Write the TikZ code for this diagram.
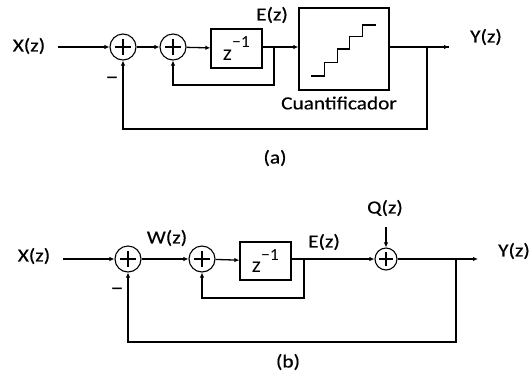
\documentclass[tikz,border=0pt]{standalone}
\usepackage{fontspec}
\setmainfont{Carlito}[FakeStretch=1.15,FakeBold=0.5]
\newfontfamily\plainfont{Carlito}[FakeStretch=1.05]
\usetikzlibrary{arrows.meta}
\tikzset{
  wire/.style={line width=1.3pt},
  arr/.style={wire,-{Latex[length=5pt,width=4.5pt]}},
  lbl/.style={font=\fontsize{18.5}{18.5}\selectfont, inner sep=0pt},
  sumnode/.style={circle,draw,line width=1.1pt,minimum size=#1,inner sep=0pt,
    path picture={
      \draw[line width=1.1pt] ([xshift=-0.3*#1]path picture bounding box.center) -- ([xshift=0.3*#1]path picture bounding box.center);
      \draw[line width=1.1pt] ([yshift=-0.3*#1]path picture bounding box.center) -- ([yshift=0.3*#1]path picture bounding box.center);
    }},
  blk/.style={draw,line width=1.3pt,inner sep=0pt},
  zinv/.style={font=\plainfont\fontsize{22}{22}\selectfont},
}
\newcommand{\zinvtext}{z\raisebox{0.55em}{\fontsize{17}{17}\selectfont −1}}
\begin{document}
\begin{tikzpicture}[x=1pt,y=-1pt]
\useasboundingbox[fill=white] (0,0) rectangle (532,376);

% ---------------- (a) ----------------
\node[lbl] (xa) at (29,46) {X(z)};
\coordinate (xas) at (58,47);
\node[sumnode=26pt] (a1) at (123,47) {};
\node[sumnode=26pt] (a2) at (173,47) {};
\node[blk,minimum width=51pt,minimum height=39pt] (ad) at (236.5,48.5) {};
\node[zinv] at (ad.center) {\zinvtext};
\node[lbl] (ea) at (272,15) {E(z)};
\node[blk,minimum width=90pt,minimum height=82pt] (aq) at (344,49) {};
\node[lbl] (qa) at (339,103) {Cuantificador};
\node[lbl] (ya) at (486,37) {Y(z)};
\node[lbl] (ma) at (112,80) {\fontsize{22}{22}\selectfont –};
\node[lbl] (la) at (275,158) {(a)};
\coordinate (ai) at (274,47);
\coordinate (ao) at (427,47);
\coordinate (aend) at (449,47);

\draw[arr] (xas) -- (a1);
\draw[arr] (a1) -- (a2);
\draw[arr] (a2) -- (ad);
\draw[arr] (ad.east |- 0,47) -- (aq.west |- 0,47);
\draw[wire] (aq.east |- 0,47) -- (aend);
\draw[arr] (ao) -- (aend);
\draw[arr] (ai) -- (274,85) -| (a2.south);
\draw[arr] (ao) -- (427,129) -| (a1.south);
% staircase
\draw[line width=1.3pt] (311,76) -- (324.3,76) -- (324.3,62.3) -- (337.7,62.3) -- (337.7,49)
  -- (349.3,49) -- (349.3,36.7) -- (362.7,36.7) -- (362.7,25) -- (376,25);

% ---------------- (b) ----------------
\node[lbl] (xb) at (34,256) {X(z)};
\coordinate (xbs) at (63,259);
\node[sumnode=26pt] (b1) at (128,259) {};
\node[lbl] (wb) at (167,238) {W(z)};
\node[sumnode=26pt] (b2) at (202,259) {};
\node[blk,minimum width=51pt,minimum height=38pt] (bd) at (265.5,261) {};
\node[zinv] at (bd.center) {\zinvtext};
\node[lbl] (eb) at (324,242) {E(z)};
\node[sumnode=22pt] (b3) at (386,259) {};
\node[lbl] (qb) at (385,208) {Q(z)};
\coordinate (qbs) at (386,227);
\node[lbl] (yb) at (514,251) {Y(z)};
\node[lbl] (mb) at (117,291) {\fontsize{22}{22}\selectfont –};
\node[lbl] (lb) at (288,362) {(b)};
\coordinate (bi) at (304,259);
\coordinate (bo) at (456,259);
\coordinate (bend) at (478,259);

\draw[arr] (xbs) -- (b1);
\draw[arr] (b1) -- (b2);
\draw[arr] (b2) -- (bd);
\draw[arr] (bd.east |- 0,259) -- (b3);
\draw[arr] (qbs) -- (b3);
\draw[arr] (b3) -- (bend);
\draw[arr] (bi) -- (304,298) -| (b2.south);
\draw[arr] (bo) -- (456,342) -| (b1.south);
\end{tikzpicture}
\end{document}
